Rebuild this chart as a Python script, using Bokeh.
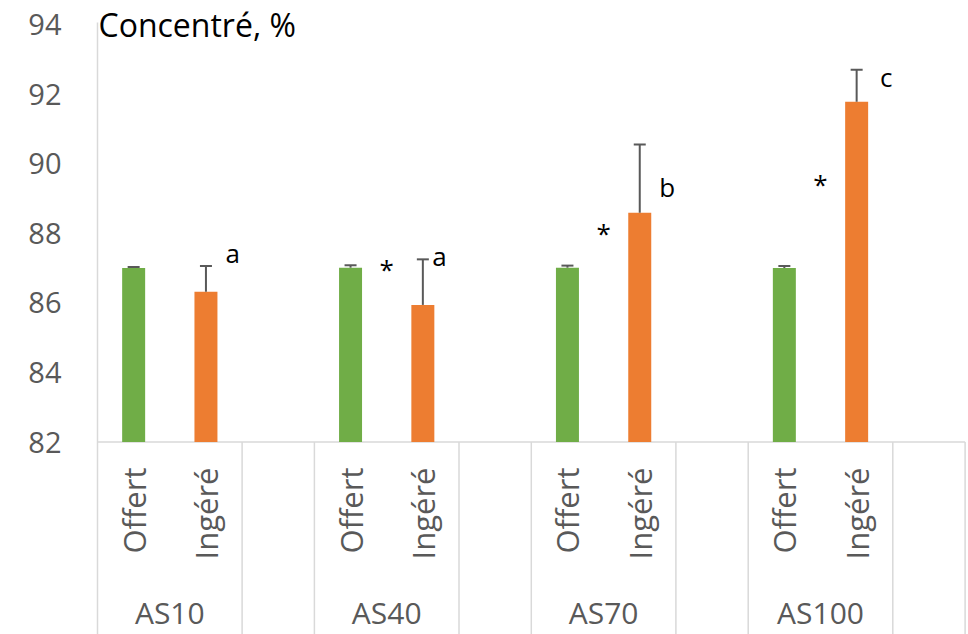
import math
from bokeh.plotting import figure
from bokeh.models import ColumnDataSource, Range1d, FixedTicker, Whisker, TeeHead, Label
from bokeh.core.properties import value
from bokeh.embed import file_html
from bokeh.resources import INLINE

# ---- data ----
groups = ["AS10", "AS40", "AS70", "AS100"]
subcats = ["Offert", "Ingéré"]
offert = [87.00, 87.01, 87.01, 87.00]
offert_err = [0.03, 0.07, 0.06, 0.06]
ingere = [86.32, 85.94, 88.59, 91.78]
ingere_err = [0.74, 1.31, 1.96, 0.92]
letters = ["a", "a", "b", "c"]
letter_y = [87.12, 87.03, 89.02, 92.17]
letter_dx = [0.37, 0.23, 0.38, 0.41]
stars = ["", "*", "*", "*"]
star_y = [87.0, 87.0, 88.04, 89.44]
yticks = [82, 84, 86, 88, 90, 92, 94]
title_text = "Concentré, %"

# ---- geometry (pixels) ----
W, H = 968, 634
AXIS_X = 97          # pixel position of the category-axis left edge
PAD = 2              # frame starts a little left of it so the line is not clipped
SLOT_PX = 72.3
LINE_TOP_PX = 22
Y94_PX, Y82_PX = 24.0, 441.5
ppu = (Y82_PX - Y94_PX) / 12.0
y_top = 94 + Y94_PX / ppu
y_bot = 82 - (H - Y82_PX) / ppu
frame_w = W - (AXIS_X - PAD) - 1
x_start = -PAD / SLOT_PX
x_end = x_start + frame_w / SLOT_PX

FONT = "Open Sans"
GREEN = "#70AD47"
ORANGE = "#ED7D31"
GREY_TXT = "#595959"
LINE = "#D9D9D9"

p = figure(width=W, height=H, x_range=Range1d(x_start, x_end), y_range=Range1d(y_bot, y_top),
           min_border_left=AXIS_X - PAD, min_border_right=1, min_border_top=0, min_border_bottom=0,
           x_axis_location=None, output_backend="svg", toolbar_location=None)
p.outline_line_color = None
p.xgrid.visible = False
p.ygrid.visible = False
p.background_fill_color = "white"

ya = p.yaxis[0]
ya.ticker = FixedTicker(ticks=yticks)
ya.axis_line_color = None
ya.major_tick_line_color = None
ya.minor_tick_line_color = None
ya.major_tick_in = 0
ya.major_tick_out = 0
ya.major_label_standoff = 36 - PAD
ya.major_label_text_font = FONT
ya.major_label_text_font_size = "29px"
ya.major_label_text_color = GREY_TXT

base_y = yticks[0]
n = len(groups)
off_x = [3 * i + 0.5 for i in range(n)]
ing_x = [3 * i + 1.5 for i in range(n)]

# left value-axis line
line_top = 94 - (LINE_TOP_PX - Y94_PX) / ppu
p.segment(x0=[0], y0=[line_top], x1=[0], y1=[y_bot], line_color=LINE, line_width=1.5)

# separators / category axis table
sep_x = []
for i in range(n):
    sep_x += [3 * i + 2, 3 * i + 3]
p.segment(x0=[0], y0=[base_y], x1=[3 * n], y1=[base_y], line_color=LINE, line_width=1.5)
p.segment(x0=sep_x, y0=[base_y] * len(sep_x), x1=sep_x, y1=[y_bot] * len(sep_x),
          line_color=LINE, line_width=1.5)

# bars
src_off = ColumnDataSource(dict(x=off_x, top=offert, up=[v + e for v, e in zip(offert, offert_err)]))
src_ing = ColumnDataSource(dict(x=ing_x, top=ingere, up=[v + e for v, e in zip(ingere, ingere_err)]))
p.vbar(x="x", top="top", bottom=base_y, width=0.318, fill_color=GREEN, line_color=None, source=src_off)
p.vbar(x="x", top="top", bottom=base_y, width=0.318, fill_color=ORANGE, line_color=None, source=src_ing)

for src in (src_off, src_ing):
    w = Whisker(base="x", upper="up", lower="top", dimension="height", source=src,
                line_color=GREY_TXT, line_width=2,
                upper_head=TeeHead(size=12, line_color=GREY_TXT, line_width=2), lower_head=None,
                level="overlay")
    p.add_layout(w)

# letters and stars
p.text(x=[ix + d for ix, d in zip(ing_x, letter_dx)], y=letter_y, text=letters,
       text_font=value(FONT), text_font_size="26px", text_color="black",
       text_align="center", text_baseline="alphabetic", y_offset=-11)
st_x = [3 * i + 1.0 for i in range(n) if stars[i]]
st_y = [star_y[i] for i in range(n) if stars[i]]
st_t = [stars[i] for i in range(n) if stars[i]]
p.text(x=st_x, y=st_y, text=st_t, text_font=value(FONT), text_font_size="26px", text_color="black",
       text_align="center", text_baseline="alphabetic", y_offset=1)

# category labels (rotated)
cat_y = base_y - (467 - Y82_PX) / ppu
cx, ct = [], []
for i in range(n):
    cx += [off_x[i], ing_x[i]]
    ct += subcats
p.text(x=cx, y=[cat_y] * len(cx), text=ct, angle=math.pi / 2, text_font=value(FONT),
       text_font_size="31px", text_color=GREY_TXT, text_align="right", text_baseline="middle")

# group labels
grp_y = base_y - (623.3 - Y82_PX) / ppu
p.text(x=[3 * i + 1.0 for i in range(n)], y=[grp_y] * n, text=groups, text_font=value(FONT),
       text_font_size="30px", text_color=GREY_TXT, text_align="center", text_baseline="alphabetic",
       y_offset=-11)

# title
p.add_layout(Label(x=0.014, y=94 - (39 - 15 - Y94_PX) / ppu, text=title_text, text_font=FONT,
                   text_font_size="32px", text_color="black", text_baseline="alphabetic"))

open("out.html", "w").write(file_html(p, INLINE))
